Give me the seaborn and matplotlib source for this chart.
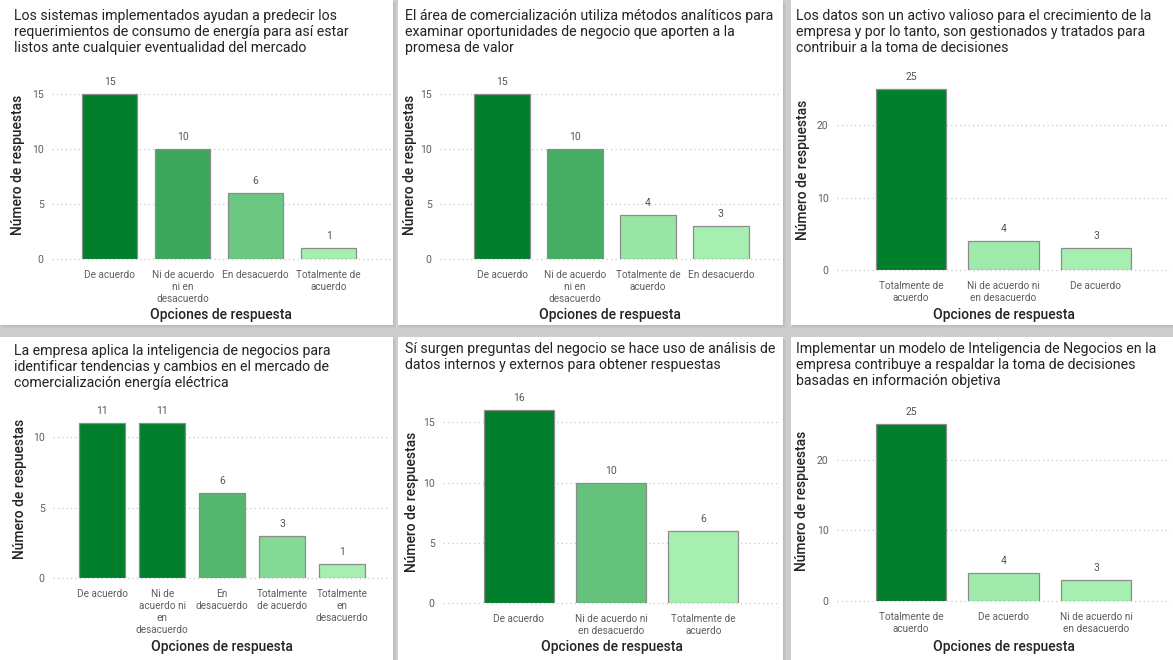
import matplotlib
matplotlib.use("Agg")
import matplotlib.pyplot as plt
from matplotlib.colors import LinearSegmentedColormap, Normalize
from matplotlib.patches import Rectangle
from matplotlib.ticker import MultipleLocator
import seaborn as sns

sns.set_theme(style="white")
plt.rcParams["font.family"] = ["Roboto", "DejaVu Sans"]

# ---- data -------------------------------------------------------------
titles = [
    "Los sistemas implementados ayudan a predecir los\nrequerimientos de consumo de energía para así estar\nlistos ante cualquier eventualidad del mercado",
    "El área de comercialización utiliza métodos analíticos para\nexaminar oportunidades de negocio que aporten a la\npromesa de valor",
    "Los datos son un activo valioso para el crecimiento de la\nempresa y por lo tanto, son gestionados y tratados para\ncontribuir a la toma de decisiones",
    "La empresa aplica la inteligencia de negocios para\nidentificar tendencias y cambios en el mercado de\ncomercialización energía eléctrica",
    "Sí surgen preguntas del negocio se hace uso de análisis de\ndatos internos y externos para obtener respuestas",
    "Implementar un modelo de Inteligencia de Negocios en la\nempresa contribuye a respaldar la toma de decisiones\nbasadas en información objetiva",
]

cats_1 = ["De acuerdo", "Ni de acuerdo ni en desacuerdo", "En desacuerdo", "Totalmente de acuerdo"]
vals_1 = [15, 10, 6, 1]
ticks_1 = ["De acuerdo", "Ni de acuerdo\nni en\ndesacuerdo", "En desacuerdo", "Totalmente de\nacuerdo"]

cats_2 = ["De acuerdo", "Ni de acuerdo ni en desacuerdo", "Totalmente de acuerdo", "En desacuerdo"]
vals_2 = [15, 10, 4, 3]
ticks_2 = ["De acuerdo", "Ni de acuerdo\nni en\ndesacuerdo", "Totalmente de\nacuerdo", "En desacuerdo"]

cats_3 = ["Totalmente de acuerdo", "Ni de acuerdo ni en desacuerdo", "De acuerdo"]
vals_3 = [25, 4, 3]
ticks_3 = ["Totalmente de\nacuerdo", "Ni de acuerdo ni\nen desacuerdo", "De acuerdo"]

cats_4 = ["De acuerdo", "Ni de acuerdo ni en desacuerdo", "En desacuerdo",
          "Totalmente de acuerdo", "Totalmente en desacuerdo"]
vals_4 = [11, 11, 6, 3, 1]
ticks_4 = ["De acuerdo", "Ni de\nacuerdo ni\nen\ndesacuerdo", "En\ndesacuerdo",
           "Totalmente\nde acuerdo", "Totalmente\nen\ndesacuerdo"]

cats_5 = ["De acuerdo", "Ni de acuerdo ni en desacuerdo", "Totalmente de acuerdo"]
vals_5 = [16, 10, 6]
ticks_5 = ["De acuerdo", "Ni de acuerdo ni\nen desacuerdo", "Totalmente de\nacuerdo"]

cats_6 = ["Totalmente de acuerdo", "De acuerdo", "Ni de acuerdo ni en desacuerdo"]
vals_6 = [25, 4, 3]
ticks_6 = ["Totalmente de\nacuerdo", "De acuerdo", "Ni de acuerdo ni\nen desacuerdo"]

y_label = "Número de respuestas"
x_label = "Opciones de respuesta"

# ---- layout (pixels on a 1173 x 660 canvas) ---------------------------
W, H = 1173, 660
fig = plt.figure(figsize=(W / 100, H / 100), dpi=100)
fig.patch.set_facecolor("#cdcdcd")

def fx(px):
    return px / W

def fy(py):
    return 1 - py / H

# card rectangles: left, top, right, bottom
cards = [(0, 0, 393, 325), (398, 0, 783, 325), (791, 0, 1173, 325),
         (0, 337, 393, 660), (398, 337, 783, 660), (791, 337, 1173, 660)]

# plot area: left, right, zero-line y, pixels per unit, top y, x-limits, tick step
areas = [
    (52, 390, 259, 11.0, 70, (-0.79, 3.84), 5),
    (440, 780, 259, 11.0, 70, (-0.85, 3.81), 5),
    (837, 1170, 270, 7.25, 70, (-0.80, 2.80), 10),
    (53, 390, 578, 14.1, 400, (-0.82, 4.80), 5),
    (443, 780, 603, 12.05, 400, (-0.82, 2.83), 5),
    (837, 1170, 601, 7.07, 400, (-0.80, 2.80), 10),
]

# title anchor (left x, top y), y-label centre x, x-label centre y
title_pos = [(14, 9), (405, 9), (796, 9), (14, 344), (405, 342), (796, 342)]
ylab_x = [18, 410, 803, 20, 412, 802]
xlab_y = [315, 315, 315, 647, 647, 647]

panels = [(cats_1, vals_1, ticks_1), (cats_2, vals_2, ticks_2), (cats_3, vals_3, ticks_3),
          (cats_4, vals_4, ticks_4), (cats_5, vals_5, ticks_5), (cats_6, vals_6, ticks_6)]

green = LinearSegmentedColormap.from_list("greens_pbi", ["#A6EFB0", "#017F2D"])

# soft drop shadow under each card, then the white card itself
for l, t, r, b in cards:
    for k, a in ((3, 0.10), (2, 0.12), (1, 0.15)):
        fig.patches.append(Rectangle((fx(l + 1), fy(b + k)), fx(r - l - 1 + k), (b - t) / H,
                                     transform=fig.transFigure, facecolor="#9a9a9a",
                                     alpha=a, edgecolor="none", zorder=-6))
    fig.patches.append(Rectangle((fx(l), fy(b)), fx(r - l), (b - t) / H,
                                 transform=fig.transFigure, facecolor="white",
                                 edgecolor="none", zorder=-5))

for i, ((cats, vals, ticks), area) in enumerate(zip(panels, areas)):
    left, right, y0, ppu, top, xlim, step = area
    ymax = (y0 - top) / ppu
    ax = fig.add_axes([fx(left), fy(y0), fx(right - left), (y0 - top) / H])
    ax.set_facecolor("none")

    norm = Normalize(min(vals), max(vals))
    pal = [green(norm(v)) for v in vals]
    sns.barplot(x=cats, y=vals, hue=cats, palette=pal, legend=False, ax=ax,
                width=0.76, edgecolor="#8c8c8c", linewidth=0.9, saturation=1)

    for cont in ax.containers:
        ax.bar_label(cont, padding=5, fontsize=7.5, color="#555555")

    ax.set_xlim(*xlim)
    ax.set_ylim(0, ymax)
    ax.yaxis.set_major_locator(MultipleLocator(step))
    ax.grid(axis="y", color="#c8c8c8", linestyle=(0, (1, 2.5)), linewidth=0.9)
    ax.grid(axis="x", visible=False)
    for gl in ax.get_ygridlines():
        gl.set_clip_on(False)
    ax.set_axisbelow(True)
    for s in ax.spines.values():
        s.set_visible(False)

    ax.set_xticks(range(len(ticks)))
    ax.set_xticklabels(ticks, fontsize=7.2, color="#605E5C", linespacing=1.25)
    ax.tick_params(axis="x", length=0, pad=8)
    ax.tick_params(axis="y", length=0, pad=6, labelsize=7.5, labelcolor="#605E5C")

    w_px, h_px = right - left, y0 - top
    ax.set_ylabel(y_label, fontsize=10, color="#252423", fontweight="medium", va="center")
    ax.yaxis.set_label_coords((ylab_x[i] - left) / w_px, 0.5)
    ax.set_xlabel(x_label, fontsize=10, color="#252423", fontweight="medium", va="center")
    ax.xaxis.set_label_coords(0.5, (y0 - xlab_y[i]) / h_px)

    tx, ty = title_pos[i]
    fig.text(fx(tx), fy(ty), titles[i], ha="left", va="top", fontsize=10.2,
             color="#252423", linespacing=1.18)

fig.savefig("out.png", dpi=100, facecolor=fig.get_facecolor())
